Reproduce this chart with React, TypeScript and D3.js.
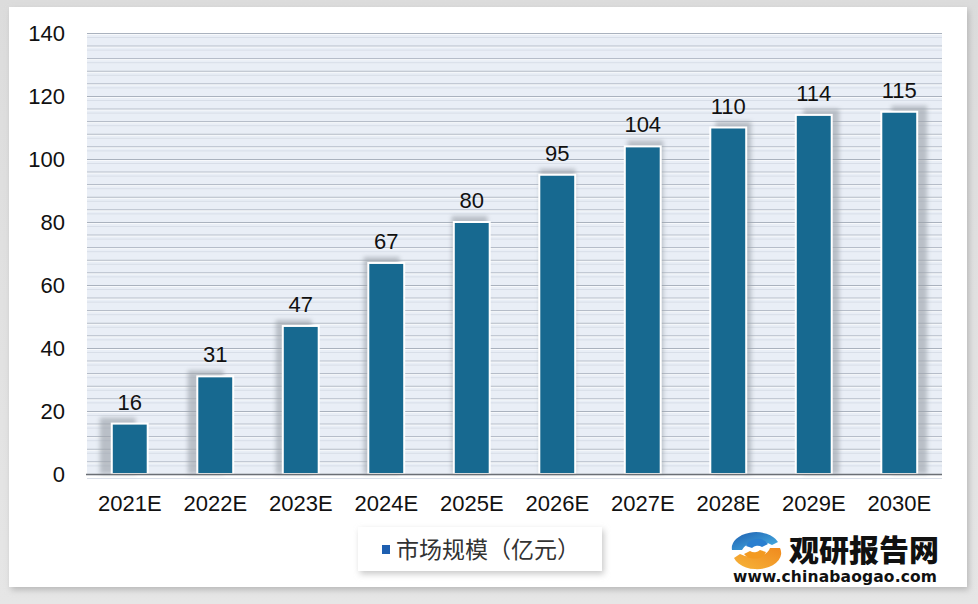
import React from "react";
import * as d3 from "d3";

const categories = ["2021E", "2022E", "2023E", "2024E", "2025E", "2026E", "2027E", "2028E", "2029E", "2030E"];
const values = [16, 31, 47, 67, 80, 95, 104, 110, 114, 115];
const yTicks = [0, 20, 40, 60, 80, 100, 120, 140];
const seriesName = "市场规模（亿元）";

const W = 978, H = 604;
const plot = { left: 87, right: 942, top: 33, bottom: 474 };

export default function App() {
  const x = d3.scaleBand<string>().domain(categories).range([plot.left, plot.right]).paddingInner(0.58).paddingOuter(0.29);
  const y = d3.scaleLinear().domain([0, 140]).range([plot.bottom, plot.top]);
  const grid = d3.range(0, 141, 4);
  const bw = x.bandwidth();
  const font = "'Liberation Sans', Arial, sans-serif";
  return (
    <svg width={W} height={H} style={{ position: "absolute", left: 0, top: 0 }}>
      <defs>
        <linearGradient id="bgG" x1="0" x2="0" y1="0" y2="1">
          <stop offset="0" stopColor="#dcdcdc" />
          <stop offset="1" stopColor="#e6e6e6" />
        </linearGradient>
        <filter id="cardShadow" x="-5%" y="-5%" width="110%" height="110%">
          <feGaussianBlur stdDeviation="3" />
        </filter>
        <filter id="barShadow" x="-50%" y="-20%" width="200%" height="140%">
          <feGaussianBlur stdDeviation="2" />
        </filter>
        <filter id="legShadow" x="-10%" y="-30%" width="120%" height="160%">
          <feGaussianBlur stdDeviation="3" />
        </filter>
        <linearGradient id="swBlue" x1="0" x2="1" y1="0" y2="1">
          <stop offset="0" stopColor="#1e5fb0" />
          <stop offset="1" stopColor="#49b4e6" />
        </linearGradient>
        <linearGradient id="swOrange" x1="0" x2="1" y1="1" y2="0">
          <stop offset="0" stopColor="#f6b43a" />
          <stop offset="1" stopColor="#f08a1e" />
        </linearGradient>
      </defs>
      <rect x={0} y={0} width={W} height={H} fill="url(#bgG)" />
      <rect x={11} y={10} width={958} height={580} fill="#b8b8b8" filter="url(#cardShadow)" />
      <rect x={9} y={7} width={958} height={580} fill="#ffffff" />

      {/* plot background */}
      <rect x={plot.left} y={plot.top} width={plot.right - plot.left} height={plot.bottom - plot.top} fill="#e9eef6" />
      {grid.map((g) => (
        <g key={g}>
          <line x1={plot.left} x2={plot.right} y1={y(g) + 0.5} y2={y(g) + 0.5} stroke="#aab2be" strokeWidth={1} />
          <line x1={plot.left} x2={plot.right} y1={y(g) + 1.5} y2={y(g) + 1.5} stroke="#f7f9fc" strokeWidth={1} />
          <line x1={plot.left} x2={plot.right} y1={y(g) + 4.5} y2={y(g) + 4.5} stroke="#d8dee8" strokeWidth={1} />
        </g>
      ))}

      {/* bar shadows */}
      {values.map((v, i) => {
        const dx = -12 + i * (22 / 9);
        const bx = x(categories[i])!;
        return (
          <rect key={"s" + i} x={bx + dx} y={y(v) - 6} width={bw} height={plot.bottom - y(v) + 6} fill="#9aa0a8" opacity={0.6} filter="url(#barShadow)" />
        );
      })}
      {/* bars */}
      {values.map((v, i) => (
        <rect key={"b" + i} x={x(categories[i])!} y={y(v)} width={bw} height={plot.bottom - y(v)} fill="#176990" stroke="#ffffff" strokeWidth={2} />
      ))}
      {/* axis line */}
      <line x1={plot.left - 1} x2={plot.right} y1={plot.bottom + 0.5} y2={plot.bottom + 0.5} stroke="#6b6f75" strokeWidth={1.5} />

      {/* value labels */}
      {values.map((v, i) => (
        <text key={"v" + i} x={x(categories[i])! + bw / 2} y={y(v) - 14} textAnchor="middle" fontFamily={font} fontSize={22} fill="#111">{v}</text>
      ))}
      {/* x labels */}
      {categories.map((c) => (
        <text key={c} x={x(c)! + bw / 2} y={511} textAnchor="middle" fontFamily={font} fontSize={22} fill="#111">{c}</text>
      ))}
      {/* y ticks */}
      {yTicks.map((t) => (
        <text key={t} x={65} y={y(t) + 8} textAnchor="end" fontFamily={font} fontSize={22} fill="#111">{t}</text>
      ))}

      {/* legend */}
      <rect x={360} y={530} width={244} height={44} fill="#c8c8c8" filter="url(#legShadow)" />
      <rect x={358} y={527} width={244} height={44} fill="#ffffff" />
      <rect x={382} y={545} width={8} height={9} fill="#1e5fb0" />
      <text x={396} y={558} fontFamily="'Noto Sans CJK SC', sans-serif" fontSize={23} fill="#333">{seriesName}</text>

      {/* logo */}
      <g transform="translate(756,548)">
        <path d="M -24 2 A 24 16 0 0 1 22 -6 L 16 -3 A 18 11 0 0 0 -14 2 Z" fill="url(#swBlue)" />
        <path d="M -10 -2 A 12 10 0 0 1 12 -4 L 6 -1 A 7 6 0 0 0 -4 0 Z" fill="#2a7fd0" />
        <path d="M 24 0 A 24 16 0 0 1 -22 10 L -16 6 A 18 11 0 0 0 14 0 Z" fill="url(#swOrange)" />
        <path d="M 10 4 A 12 9 0 0 1 -12 6 L -6 3 A 7 6 0 0 0 4 2 Z" fill="#f39a20" />
      </g>
      <text x={789} y={561} fontFamily="'Noto Sans CJK SC', sans-serif" fontWeight={900} fontSize={30} fill="#111">观研报告网</text>
      <text x={733} y={582} fontFamily="'DejaVu Sans', sans-serif" fontWeight="bold" fontSize={15.5} fill="#111" textLength={204}>www.chinabaogao.com</text>
    </svg>
  );
}
